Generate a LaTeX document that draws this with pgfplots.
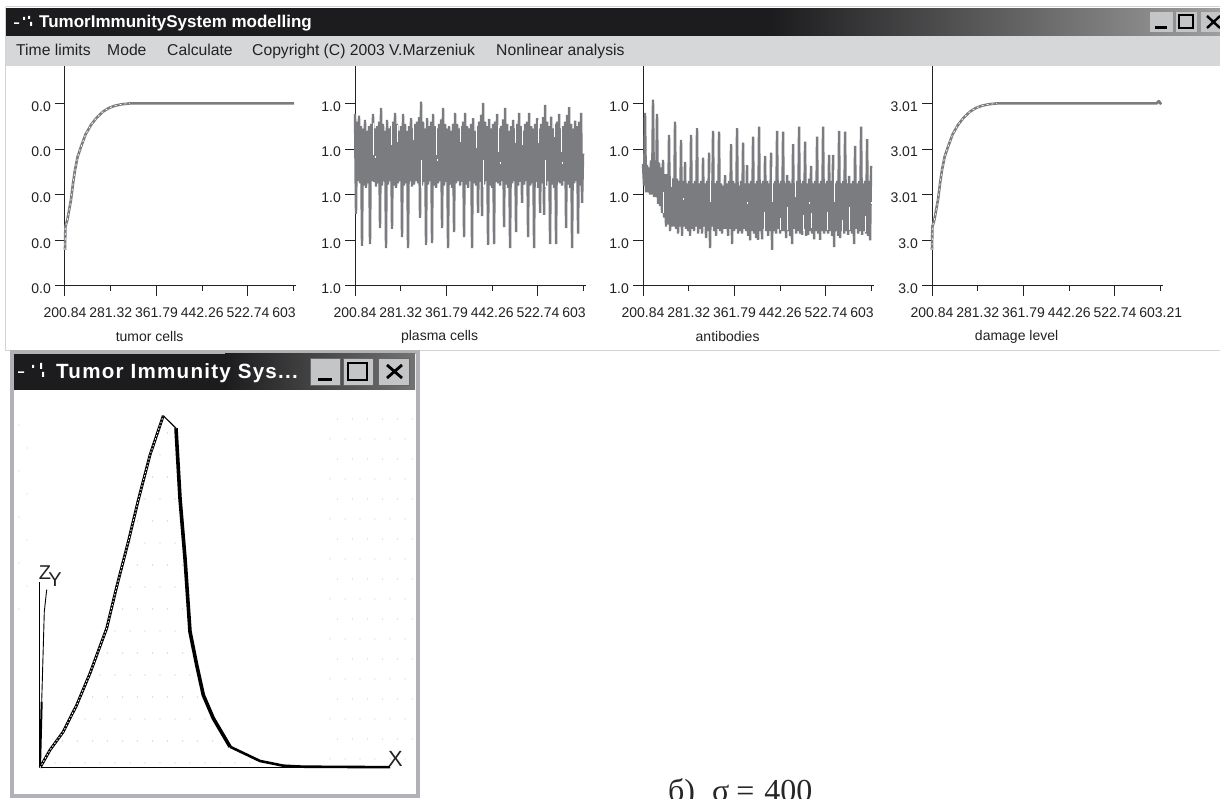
\documentclass[border=0pt]{standalone}
\usepackage{fontspec}
\usepackage{pgfplots}
\usepackage{pgfplotstable}
\pgfplotsset{compat=1.18}
\setmainfont{Liberation Sans}
\newfontfamily\capfont{Liberation Serif}
\definecolor{sig}{HTML}{7B7C80}
\definecolor{bar}{HTML}{1C1B1D}
\definecolor{menu}{HTML}{D6D7D9}
\definecolor{btn}{HTML}{C4C5C7}
\definecolor{frm}{HTML}{B0B2B5}
\definecolor{ink}{HTML}{222222}
\pgfplotstableread{
t plasma antibodies
200.84 3.77 2.67
202.60 1.58 2.20
204.36 3.60 3.79
206.12 2.30 2.05
207.88 3.73 2.65
209.64 2.25 2.05
211.40 3.50 2.60
213.16 0.88 2.00
214.92 3.45 2.75
216.68 2.20 2.00
218.44 3.64 4.08
220.20 2.15 1.95
221.96 3.40 2.75
223.72 2.25 1.95
225.48 3.50 3.77
227.24 0.92 1.80
229.00 3.55 2.70
230.76 2.30 1.75
232.52 3.77 2.60
234.28 2.28 1.60
236.04 3.45 2.76
237.80 2.18 1.50
239.56 3.50 2.45
241.32 2.25 1.30
243.08 3.60 2.45
244.84 1.27 1.35
246.60 3.90 3.31
248.36 2.20 1.20
250.12 3.55 2.40
251.88 2.30 1.30
253.64 3.40 2.35
255.40 0.83 1.30
257.16 3.64 3.60
258.92 2.22 1.25
260.68 3.45 2.35
262.44 2.30 1.15
264.20 3.50 2.30
265.96 1.25 1.30
267.72 3.60 3.20
269.48 2.20 1.10
271.24 3.79 2.30
273.00 2.15 1.30
274.76 3.55 2.72
276.52 2.25 1.25
278.28 3.40 2.25
280.04 2.30 1.20
281.80 3.50 2.30
283.56 1.07 1.10
285.32 3.77 3.31
287.08 2.20 1.25
288.84 3.55 2.25
290.60 2.25 1.20
292.36 3.40 2.30
294.12 0.83 1.30
295.88 3.50 3.46
297.64 2.30 1.15
299.40 3.68 2.25
301.16 2.18 1.25
302.92 3.45 2.30
304.68 2.22 1.15
306.44 3.55 2.81
308.20 2.30 1.30
309.96 3.60 2.25
311.72 2.25 1.05
313.48 3.70 2.30
315.24 1.49 1.20
317.00 4.04 2.92
318.76 2.20 0.83
320.52 3.60 2.30
322.28 2.28 1.30
324.04 3.45 3.40
325.80 0.90 1.20
327.56 3.68 2.25
329.32 2.22 1.10
331.08 3.50 2.30
332.84 2.30 1.25
334.60 3.60 3.38
336.36 0.94 1.20
338.12 3.77 2.25
339.88 2.20 1.15
341.64 3.50 2.20
343.40 2.15 1.25
345.16 3.45 2.43
346.92 2.25 1.25
348.68 3.55 2.25
350.44 2.30 1.10
352.20 3.65 2.30
353.96 1.27 1.25
355.72 3.90 3.11
357.48 2.20 0.92
359.24 3.55 2.30
361.00 2.28 1.20
362.76 3.45 2.25
364.52 0.83 1.25
366.28 3.50 3.46
368.04 2.22 1.15
369.80 3.40 2.20
371.56 2.15 1.20
373.32 3.55 2.30
375.08 1.18 1.15
376.84 3.79 3.14
378.60 2.25 1.25
380.36 3.55 2.25
382.12 2.30 1.20
383.88 3.45 2.65
385.64 2.20 1.10
387.40 3.50 2.25
389.16 2.28 1.00
390.92 3.60 2.30
392.68 1.07 1.20
394.44 3.79 3.27
396.20 2.22 1.15
397.96 3.50 2.25
399.72 2.15 1.05
401.48 3.45 2.30
403.24 2.30 1.01
405.00 3.55 3.49
406.76 0.83 1.20
408.52 3.68 2.25
410.28 2.25 1.02
412.04 3.40 2.30
413.80 2.20 1.25
415.56 3.50 2.85
417.32 1.60 1.20
419.08 3.60 2.30
420.84 2.28 1.10
422.60 3.75 2.25
424.36 1.53 1.20
426.12 4.01 2.92
427.88 2.22 0.79
429.64 3.60 2.25
431.40 2.30 1.20
433.16 3.50 2.30
434.92 0.90 1.15
436.68 3.66 3.40
438.44 2.20 1.25
440.20 3.45 2.25
441.96 2.15 1.15
443.72 3.55 2.30
445.48 0.92 1.20
447.24 3.60 3.38
449.00 2.28 1.20
450.76 3.77 2.25
452.52 2.25 1.05
454.28 3.45 2.43
456.04 2.20 1.20
457.80 3.50 2.30
459.56 2.30 1.10
461.32 3.65 2.25
463.08 1.29 0.92
464.84 3.90 3.11
466.60 2.22 1.25
468.36 3.55 2.25
470.12 2.15 1.15
471.88 3.40 2.30
473.64 0.83 1.20
475.40 3.50 3.49
477.16 2.25 1.15
478.92 3.64 2.25
480.68 2.30 1.12
482.44 3.45 2.30
484.20 1.18 1.25
485.96 3.55 3.16
487.72 2.20 1.10
489.48 3.79 2.25
491.24 2.28 1.12
493.00 3.50 2.35
494.76 1.82 1.20
496.52 3.40 2.63
498.28 2.22 1.15
500.04 3.55 2.25
501.80 2.30 1.02
503.56 3.60 2.30
505.32 1.07 1.20
507.08 3.79 3.27
508.84 2.20 1.15
510.60 3.50 2.25
512.36 2.25 1.01
514.12 3.45 2.30
515.88 0.83 1.20
517.64 3.55 3.49
519.40 2.28 1.15
521.16 3.68 2.25
522.92 2.15 1.20
524.68 3.45 2.30
526.44 1.60 1.15
528.20 3.55 2.87
529.96 2.25 1.20
531.72 3.70 2.30
533.48 1.56 1.10
535.24 3.97 2.87
537.00 2.20 0.85
538.76 3.60 2.25
540.52 2.30 1.20
542.28 3.50 2.30
544.04 0.92 1.10
545.80 3.71 3.40
547.56 2.22 1.05
549.32 3.45 2.25
551.08 2.15 1.20
552.84 3.55 2.30
554.60 0.92 1.15
556.36 3.60 3.38
558.12 2.28 1.20
559.88 3.77 2.25
561.64 2.25 1.12
563.40 3.45 2.41
565.16 2.20 1.20
566.92 3.50 2.25
568.68 2.30 1.15
570.44 3.60 2.30
572.20 1.27 0.92
573.96 3.75 3.07
575.72 2.22 1.25
577.48 3.92 2.25
579.24 2.15 1.15
581.00 3.55 2.30
582.76 0.83 1.20
584.52 3.45 3.49
586.28 2.25 1.12
588.04 3.62 2.25
589.80 2.30 1.20
591.56 3.50 2.30
593.32 1.15 1.15
595.08 3.60 3.22
596.84 2.20 1.10
598.60 3.79 2.30
600.36 1.82 1.00
602.12 2.90 2.63
}\series
\pgfplotsset{
  panel/.style={
    anchor=south west, scale only axis, width=230.5pt, height=220pt,
    xmin=200.84, xmax=606.4, ymin=0, ymax=4.82, clip=false,
    axis x line=bottom, axis y line=left,
    axis line style={-, color=ink, line width=1pt},
    tick style={color=ink, line width=1pt},
    minor tick style={color=ink, line width=1pt},
    tick align=outside, major tick length=10pt, minor tick length=5pt,
    xtick={200.84,361.79,522.74},
    minor xtick={281.32,442.26,603.21},
    ytick={0,1,2,3,4},
    extra x ticks={281.32,442.26,603.21},
    extra x tick style={tick style={draw=none}},
    every x tick label/.style={font=\fontsize{14}{16}\selectfont, color=ink, inner sep=0pt, anchor=north, yshift=-12pt},
    every y tick label/.style={font=\fontsize{14}{16}\selectfont, color=ink, inner sep=0pt, anchor=east, xshift=-4pt, yshift=-3pt},
    xlabel style={font=\fontsize{14}{16}\selectfont, color=ink, inner sep=0pt, anchor=center, at={(axis description cs:0.367,0)}, yshift=-51pt},
  },
  sig/.style={color=sig, line width=2.6pt, line join=round, no marks},
  stip/.style={color=white, line width=0.7pt, dash pattern=on 2pt off 3pt, no marks},
  band/.style={color=sig, line width=2.4pt, line join=bevel, no marks},
  slit/.style={color=white, line width=0.9pt, no marks, unbounded coords=jump},
}
\begin{document}
\begin{tikzpicture}[x=1pt,y=1pt]
\path[use as bounding box, clip] (0,0) rectangle (1220,799);
\fill[white] (0,0) rectangle (1220,799);
% upper window chrome
\fill[menu] (6,733) rectangle (1220,763);
\draw[gray!35, line width=0.6pt] (5,792) -- (5,449) -- (1220,449);
\draw[gray!35, line width=1pt] (6,792) -- (1220,792);
\fill[bar] (6,763) rectangle (770,790.5);
\shade[left color=bar, right color=black!38] (770,763) rectangle (1220,790.5);
\fill[white] (14,775) rectangle (19,776.5) (23,779) rectangle (25,782) (28,780) rectangle (30,783) (30,773) rectangle (32,777);
\node[anchor=base west, inner sep=0, text=white, font=\bfseries\fontsize{17}{20}\selectfont] at (39,771.5) {TumorImmunitySystem modelling};
\foreach \tx/\xx in {Time limits/16, Mode/107, Calculate/167, Copyright (C) 2003 V.Marzeniuk/252, Nonlinear analysis/496}
  \node[anchor=base west, inner sep=0, text=ink, font=\fontsize{15.7}{18}\selectfont] at (\xx,743) {\tx};
\foreach \a/\b in {1150/1173, 1176/1197, 1201/1226}
  \fill[btn] (\a,767) rectangle (\b,787);
\fill[black] (1155,770) rectangle (1167,773);
\draw[black, line width=1.6pt] (1179,771) rectangle (1193,784);
\draw[black, line width=2.4pt] (1207,783) -- (1220,771) (1207,771) -- (1220,783);
% lower window chrome
\draw[frm, line width=4pt, fill=white] (12,3) rectangle (418,447);
\fill[bar] (14,409) rectangle (225,445);
\shade[left color=bar, right color=black!55] (225,409) rectangle (415,445);
\fill[white] (18,426) rectangle (24,427.5) (32,431) rectangle (34,434) (40,430) rectangle (42,436) (42,422) rectangle (44,427);
\node[anchor=base west, inner sep=0, text=white, font=\bfseries\addfontfeature{LetterSpace=6}\fontsize{20.6}{24}\selectfont] at (56,420) {Tumor Immunity Sys...};
\foreach \a/\b in {310/340, 343/373, 378/409}
  \fill[btn, draw=black!60, line width=0.6pt] (\a,414) rectangle (\b,441);
\fill[black] (318,418) rectangle (332,421);
\draw[black, line width=1.6pt] (348,419) rectangle (367,436);
\draw[black, line width=2.8pt] (387,434) -- (402,421) (387,421) -- (402,434);
% stipple of the window
\begin{scope}
\clip (40,32) -- (50,49) -- (63,68) -- (77,95) -- (90,126) -- (107,171) -- (117,213) -- (128,258) -- (138,299) -- (150,344) -- (163,384) -- (176,371) -- (180,301) -- (185,241) -- (190,168) -- (197,134) -- (203,104) -- (213,81) -- (230,53) -- (260,38) -- (300,32) -- cycle;
\foreach \i in {0,...,14} \foreach \j in {0,...,16}
  \fill[black!25] ({40+\i*15+mod(\j,2)*7.5},{36+\j*22}) circle (0.7);
\end{scope}
\foreach \i in {0,...,5} \foreach \j in {0,...,17}
  \fill[black!20] ({330+\i*15+mod(\j,2)*7.5},{40+\j*20}) circle (0.7);
\foreach \j in {0,...,8} \fill[black!20] ({19+mod(\j,2)*8},{190+\j*23}) circle (0.7);
% panels
\begin{axis}[panel, at={(65pt,513pt)}, xticklabels={200.84,361.79,522.74}, extra x tick labels={281.32,442.26,603\phantom{.21}}, yticklabels={0.0,0.0,0.0,0.0,0.0}, xlabel={tumor cells}]
\addplot[sig] coordinates {(200.84,0.79)(201.5,1.30)(205,1.45)(211.4,1.89)(215,2.25)(218.4,2.54)(223,2.83)(229,3.05)(237,3.32)(246.6,3.53)(256,3.68)(267.7,3.82)(278,3.90)(288.8,3.95)(300,3.98)(315.2,4.0)(604,4.0)};
\addplot[stip] coordinates {(200.84,0.79)(201.5,1.30)(205,1.45)(211.4,1.89)(215,2.25)(218.4,2.54)(223,2.83)(229,3.05)(237,3.32)(246.6,3.53)(256,3.68)(267.7,3.82)(278,3.90)(288.8,3.95)(300,3.98)(315.2,4.0)};
\end{axis}
\begin{axis}[panel, at={(355pt,513pt)}, xticklabels={200.84,361.79,522.74}, extra x tick labels={281.32,442.26,603\phantom{.21}}, yticklabels={1.0,1.0,1.0,1.0,1.0}, xlabel={plasma cells}]
\addplot[band] table[x=t, y=plasma] {\series};
\addplot[slit] coordinates {(232.5,3.57)(232.5,2.87)(232.5,nan)(264.2,3.57)(264.2,3.09)(264.2,nan)(274.8,3.53)(274.8,3.16)(274.8,nan)(302.9,3.64)(302.9,3.2)(302.9,nan)(343.4,3.53)(343.4,2.87)(343.4,nan)(385.6,3.64)(385.6,3.16)(385.6,nan)(413.8,3.53)(413.8,3.03)(413.8,nan)(452.5,3.53)(452.5,2.94)(452.5,nan)(482.4,3.64)(482.4,3.14)(482.4,nan)(494.8,3.53)(494.8,3.09)(494.8,nan)(522.9,3.64)(522.9,3.14)(522.9,nan)(551.1,3.6)(551.1,3.27)(551.1,nan)(563.4,3.53)(563.4,2.94)(563.4,nan)(317,2.76)(317,2.15)(317,nan)(426.1,2.76)(426.1,2.17)(426.1,nan)(535.2,2.76)(535.2,2.17)(535.2,nan)(236,2.85)(236,2.81)(236,nan)(345.2,2.78)(345.2,2.74)(345.2,nan)(456,2.72)(456,2.68)(456,nan)(565.2,2.72)(565.2,2.68)};
\end{axis}
\begin{axis}[panel, at={(643pt,513pt)}, xticklabels={200.84,361.79,522.74}, extra x tick labels={281.32,442.26,603\phantom{.21}}, yticklabels={1.0,1.0,1.0,1.0,1.0}, xlabel={antibodies}]
\addplot[band] table[x=t, y=antibodies] {\series};
\addplot[slit] coordinates {(318.8,2.48)(318.8,1.84)(318.8,nan)(250.1,2.59)(250.1,2.17)(250.1,nan)(236,2.06)(236,1.6)(236,nan)(427.9,2.6)(427.9,1.84)(427.9,nan)(537,2.54)(537,1.84)(537,nan)(468.4,2.48)(468.4,1.95)(468.4,nan)(454.3,1.73)(454.3,1.23)(454.3,nan)(563.4,1.73)(563.4,1.23)(563.4,nan)(413.8,1.62)(413.8,1.23)(413.8,nan)(524.7,1.62)(524.7,1.23)(524.7,nan)(496.5,1.6)(496.5,1.28)(496.5,nan)(482.4,1.55)(482.4,1.2)(482.4,nan)(441.9,1.5)(441.9,1.23)(441.9,nan)(551.1,1.45)(551.1,1.15)(551.1,nan)(591.6,1.53)(591.6,1.18)(591.6,nan)(271.2,1.93)(271.2,1.89)(271.2,nan)(383.9,1.84)(383.9,1.80)(383.9,nan)(493,1.84)(493,1.80)(493,nan)(602.1,1.84)(602.1,1.80)};
\end{axis}
\begin{axis}[panel, at={(932pt,513pt)}, xticklabels={200.84,361.79,522.74}, extra x tick labels={281.32,442.26,603.21}, yticklabels={3.0,3.0,3.01,3.01,3.01}, xlabel={damage level}]
\addplot[sig] coordinates {(200.84,0.79)(201.5,1.30)(205,1.45)(211.4,1.89)(215,2.25)(218.4,2.54)(223,2.83)(229,3.05)(237,3.32)(246.6,3.53)(256,3.68)(267.7,3.82)(278,3.90)(288.8,3.95)(300,3.98)(315.2,4.0)(596,4.0)(600,4.05)(604,3.98)};
\addplot[stip] coordinates {(200.84,0.79)(201.5,1.30)(205,1.45)(211.4,1.89)(215,2.25)(218.4,2.54)(223,2.83)(229,3.05)(237,3.32)(246.6,3.53)(256,3.68)(267.7,3.82)(278,3.90)(288.8,3.95)(300,3.98)(315.2,4.0)};
\end{axis}
% projection plot
\begin{axis}[at={(40pt,31.3pt)}, anchor=south west, scale only axis, width=350pt, height=352pt, xmin=0, xmax=350, ymin=0, ymax=352, hide axis, clip=false]
\addplot[black, line width=1.4pt, no marks] coordinates {(0,0)(350,0)};
\addplot[black, line width=0.9pt, no marks] coordinates {(-0.7,0)(-0.7,186)};
\addplot[black, line width=2pt, no marks] coordinates {(0,0)(1.7,66)};
\addplot[black, line width=0.9pt, no marks] coordinates {(1.7,66)(4.3,156)(6.7,178)};
\addplot[black, line width=2.8pt, line join=round, no marks] coordinates {(0,0)(10,17.7)(23.3,36)(36.7,62.7)(50,94.4)(66.7,139.4)(76.7,181)(88.3,226)(98.3,267.7)(110,312.7)(123.3,352)};
\addplot[white, line width=0.9pt, dash pattern=on 1.5pt off 2pt, no marks] coordinates {(0,0)(10,17.7)(23.3,36)(36.7,62.7)(50,94.4)(66.7,139.4)(76.7,181)(88.3,226)(98.3,267.7)(110,312.7)(123.3,352)};
\addplot[black, line width=1.2pt, no marks] coordinates {(123.3,352)(136,339.4)};
\addplot[black, line width=3.6pt, line join=round, no marks] coordinates {(136,339.4)(140,269.4)(145,209.4)(150,136)(156.7,102.7)(163.3,72.7)(173.3,49.4)(190,21)};
\addplot[black, line width=2.6pt, no marks] coordinates {(190,21)(220,6.7)(243.3,2)(263.3,1)(350,0.5)};
\end{axis}
\node[inner sep=0, text=ink, font=\fontsize{20}{22}\selectfont] at (45,226.5) {Z};
\node[inner sep=0, text=ink, font=\fontsize{20}{22}\selectfont] at (55,219) {Y};
\node[inner sep=0, text=ink, font=\fontsize{22}{24}\selectfont] at (395.5,40.5) {X};
\node[anchor=base west, inner sep=0, text=black!85, font=\capfont\fontsize{32}{36}\selectfont] at (668,-3) {б)\hspace{17pt}σ\hspace{7pt}=\hspace{10pt}400};
\end{tikzpicture}
\end{document}
